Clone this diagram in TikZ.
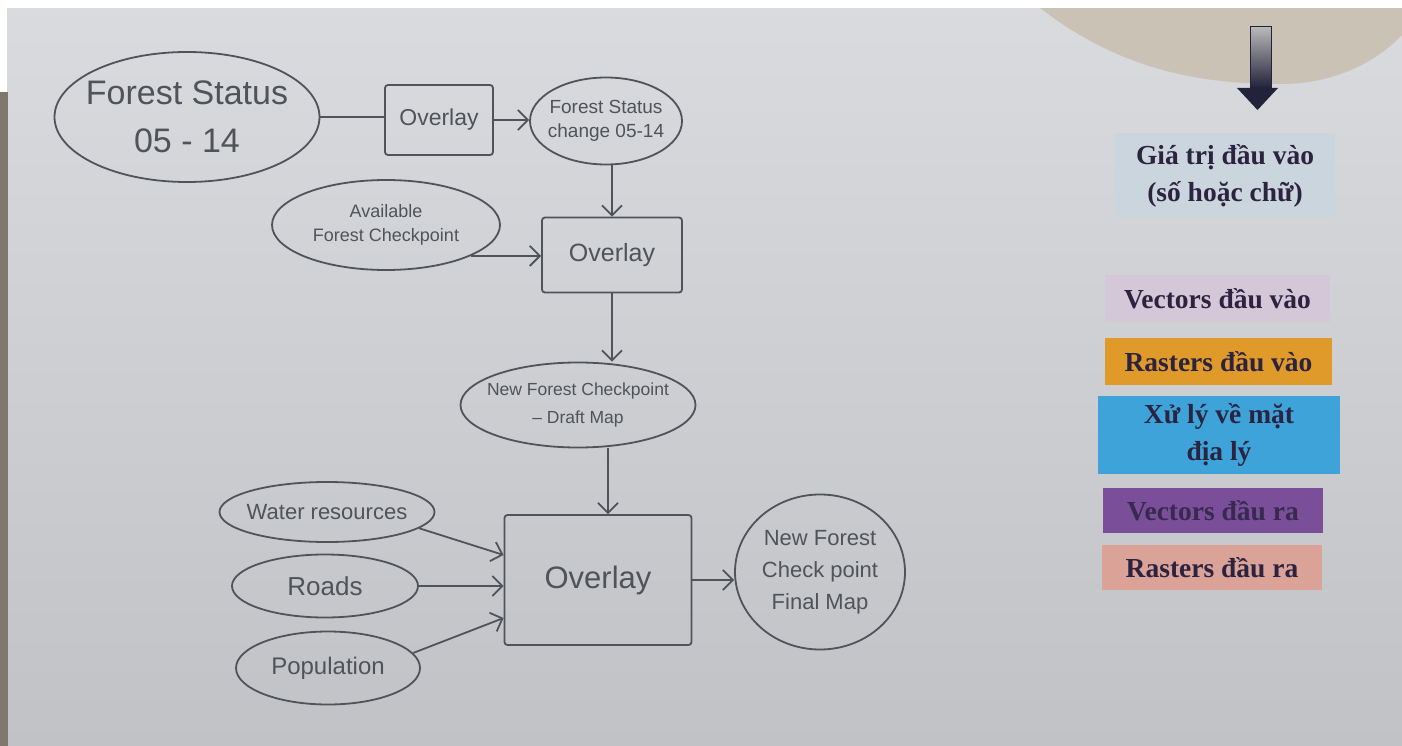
\documentclass[tikz,border=0pt]{standalone}
\usepackage{fontspec}
\setmainfont{Liberation Serif}
\newfontfamily\handfont{Liberation Sans}
\usetikzlibrary{shapes.geometric,arrows.meta,calc}
\definecolor{pencil}{HTML}{50535A}
\definecolor{paperT}{HTML}{D9DBDE}
\definecolor{paperB}{HTML}{C0C2C6}
\definecolor{stripc}{HTML}{7E786F}
\definecolor{shadowc}{HTML}{CBC2B6}
\definecolor{navyd}{HTML}{22223A}
\definecolor{legtext}{HTML}{2B2340}
\definecolor{legA}{HTML}{CBD5DD}
\definecolor{legB}{HTML}{D4C7D8}
\definecolor{legC}{HTML}{E09A2A}
\definecolor{legD}{HTML}{3DA3D9}
\definecolor{legE}{HTML}{7B4E9A}
\definecolor{legF}{HTML}{DBA398}
\begin{document}
\begin{tikzpicture}[x=1pt,y=-1pt,
  ell/.style={ellipse, draw=pencil, line width=1.8pt, inner xsep=-60pt, inner ysep=-20pt, align=center, text=pencil},
  opbox/.style={rectangle, draw=pencil, line width=1.8pt, inner sep=0pt, align=center, text=pencil, rounded corners=3pt},
  hw/.style 2 args={font=\handfont\fontsize{#1}{#2}\selectfont},
  leg/.style={rectangle, inner sep=0pt, align=center, text=legtext, font=\bfseries\fontsize{27.5}{37}\selectfont},
  conn/.style={draw=pencil, line width=1.8pt},
  arr/.style={conn, -{Straight Barb[length=10pt,width=20pt,line width=1.8pt]}}
]
\useasboundingbox (0,0) rectangle (1402,746);
% paper and photo edges
\shade[top color=paperT, bottom color=paperB] (0,0) rectangle (1402,746);
\fill[shadowc] (1040,8) .. controls (1120,70) and (1200,84) .. (1280,84) .. controls (1340,84) and (1380,58) .. (1402,35) -- (1402,8) -- cycle;
\fill[white] (0,0) rectangle (1402,8);
\fill[white] (0,0) rectangle (7,92);
\fill[stripc] (0,92) rectangle (8,746);

% legend arrow
\shade[top color=gray!55, bottom color=navyd, draw=navyd, line width=1pt] (1250,27) rectangle (1271,88);
\fill[navyd] (1237,88) -- (1278,88) -- (1257.5,110) -- cycle;

% legend boxes
\node[leg, fill=legA, minimum width=220pt, minimum height=85pt] (lgA) at (1225,175.5) {Giá trị đầu vào\\(số hoặc chữ)};
\node[leg, fill=legB, minimum width=225pt, minimum height=47pt] (lgB) at (1217.5,298.5) {Vectors đầu vào};
\node[leg, fill=legC, minimum width=227pt, minimum height=47pt] (lgC) at (1218.5,361.5) {Rasters đầu vào};
\node[leg, fill=legD, minimum width=242pt, minimum height=78pt] (lgD) at (1219,435) {Xử lý về mặt\\địa lý};
\node[leg, fill=legE, minimum width=220pt, minimum height=45pt, text=legtext!85!legE] (lgE) at (1213,510.5) {Vectors đầu ra};
\node[leg, fill=legF, minimum width=220pt, minimum height=45pt] (lgF) at (1212,567.5) {Rasters đầu ra};

% hand-drawn flow
\node[ell, hw={34}{48}, minimum width=265pt, minimum height=130pt] (fs) at (187,117) {Forest Status\\05 - 14};
\node[opbox, hw={23}{27}, minimum width=108pt, minimum height=70pt] (ov1) at (439,120) {Overlay};
\node[ell, hw={19}{24}, minimum width=152pt, minimum height=87pt] (fsc) at (606,121) {Forest Status\\change 05-14};
\node[ell, hw={18}{24}, minimum width=228pt, minimum height=90pt] (avail) at (386,225) {Available\\Forest Checkpoint};
\node[opbox, hw={25}{29}, minimum width=140pt, minimum height=75pt] (ov2) at (612,255) {Overlay};
\node[ell, hw={17.5}{28}, minimum width=235pt, minimum height=85pt] (draft) at (578,405) {New Forest Checkpoint\\– Draft Map};
\node[ell, hw={22}{26}, minimum width=215pt, minimum height=60pt] (water) at (327,512) {Water resources};
\node[ell, hw={26}{30}, minimum width=186pt, minimum height=63pt] (roads) at (325,586) {Roads};
\node[ell, hw={24}{28}, minimum width=184pt, minimum height=73pt] (pop) at (328,668) {Population};
\node[opbox, hw={31}{35}, minimum width=187pt, minimum height=130pt] (ov3) at (598,580) {Overlay};
\node[ell, hw={22}{32}, minimum width=170pt, minimum height=155pt] (final) at (820,572) {New Forest\\Check point\\Final Map};

% connectors
\draw[conn] (fs.east) -- (fs.east -| ov1.west);
\draw[arr] (ov1.east) -- (ov1.east -| fsc.west);
\draw[arr] (ov2.north |- fsc.south) -- (ov2.north);
\draw[arr] (avail.-20) -- (avail.-20 -| ov2.west);
\draw[arr] (ov2.south) -- (ov2.south |- draft.north);
\draw[arr] ([xshift=30pt]draft.south) -- ([xshift=30pt]draft.south |- ov3.north);
\draw[arr] (water.-10) -- ([yshift=25pt]ov3.west);
\draw[arr] (roads.east) -- (roads.east -| ov3.west);
\draw[arr] (pop.10) -- ([yshift=-38pt]ov3.west);
\draw[arr] (ov3.east) -- (ov3.east -| final.west);
\end{tikzpicture}
\end{document}
